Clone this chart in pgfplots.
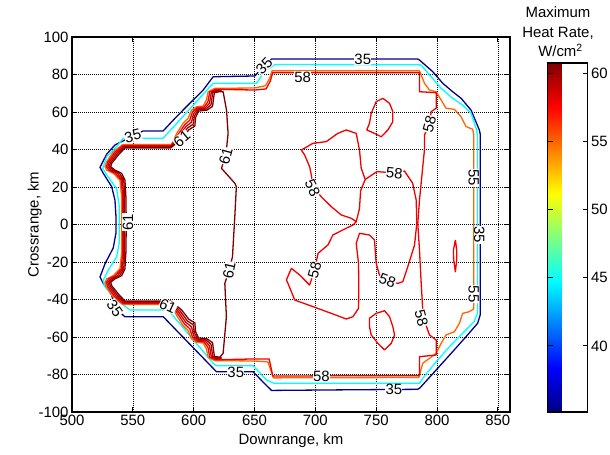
\documentclass[border=0pt]{standalone}
\usepackage{pgfplots}
\pgfplotsset{compat=1.18}
\usepackage{fontspec}
\setmainfont{Liberation Sans}
\definecolor{c35}{rgb}{0,0,0.55}
\definecolor{c45}{rgb}{0,1,1}
\definecolor{c55}{rgb}{1,0.4,0}
\definecolor{c58}{rgb}{0.95,0,0}
\definecolor{c59}{rgb}{0.78,0,0}
\definecolor{c60}{rgb}{0.64,0,0}
\definecolor{c61}{rgb}{0.5,0,0}
\newcommand\fs{\fontsize{15}{18}\selectfont}
\begin{document}
\begin{tikzpicture}[x=1bp,y=1bp]
\useasboundingbox (0,0) rectangle (610,455);
\begin{axis}[
  at={(72bp,43bp)}, anchor=south west,
  scale only axis, width=438bp, height=375bp,
  xmin=500, xmax=860, ymin=-100, ymax=100,
  xtick={500,550,...,850}, ytick={-100,-80,...,100},
  /pgf/number format/assume math mode=true,
  tick label style={font=\fs},
  grid=major,
  major grid style={black, line width=0.5bp, dash pattern=on 1bp off 1bp},
  axis line style={black, line width=1.1bp},
  tick style={black, line width=0.8bp},
  tick align=inside, major tick length=5bp,
  every axis x label/.style={at={(axis description cs:0.5,-0.077)}, anchor=center, font=\fs},
  every axis y label/.style={at={(axis description cs:-0.085,0.5)}, anchor=center, rotate=90, font=\fs},
  xlabel={Downrange, km}, ylabel={Crossrange, km},
  colormap/jet,
  point meta min=35.15, point meta max=60.75,
  colorbar,
  colorbar style={
    at={(parent axis.south east)}, anchor=south west, xshift=29bp,
    scale only axis, width=40bp, height=349bp,
    ytick={40,45,50,55,60},
    ytick pos=both, yticklabel pos=right,
    tick align=inside, major tick length=5bp,
    tick style={black, line width=0.8bp},
    axis line style={black, line width=1.1bp},
    yticklabel style={font=\fs},
    /pgf/number format/assume math mode=true,
  },
  every axis plot/.append style={line width=1.3bp, mark=none, line join=round},
  clip=true,
]
% level 35
\addplot[c35] coordinates {(664,88.3) (739,88.3) (784,88.3) (785.6,87.7) (796.5,81.5) (804.7,75.3) (812.9,70.8) (819.8,67.3) (828,61) (834.8,50.4) (835.6,48) (835.6,-48) (833.4,-52.7) (823.9,-59.8) (812.9,-67.8) (799.3,-77.6) (785.6,-87.4) (784,-87.9) (720,-88.2) (664,-88.5) (657,-84) (648.8,-78.5) (618.7,-78.5) (575,-49.2) (543.5,-49.2) (535.3,-44.6) (532.6,-37.6) (525.7,-31.4) (523,-28) (527.1,-21) (533.9,-12.5) (536.1,-4.7) (536.1,4.7) (535.3,13) (532.6,20.2) (525.7,27.3) (523,30.5) (528.5,37.5) (535.3,42.4) (540.8,44.2) (550,47.2) (558.5,49.9) (574.9,49.9) (585.9,57.5) (596.8,64.6) (607.8,71.7) (616,78.8) (650.2,79.2) (657,84) (664,88.3)};
% level 45
\addplot[c45] coordinates {(666.6,85.3) (785.6,85.2) (787,85) (795.2,78.8) (803.4,72.6) (812.9,67.3) (821.1,63.7) (828,59.3) (832.6,50.4) (833.2,47) (833.2,-47.4) (830.5,-51.8) (821.1,-58) (810.2,-65.2) (799.3,-73.2) (788.3,-82) (785.6,-84.7) (666,-84.7) (659.8,-82.9) (648.8,-75.3) (618.7,-75.3) (616,-74) (579,-45.6) (547.6,-45.6) (533.9,-38.5) (527.1,-33.2) (525.5,-30) (529.8,-24.3) (536.7,-17.2) (538.8,-10) (538.8,10) (536.7,19) (528.5,26.5) (525.3,30) (528.5,36.2) (536.7,41.5) (542.1,46) (574.9,46) (616,75.3) (651.6,75.3) (658.4,81.5) (666.6,85.3)};
% level 55
\addplot[c55] coordinates {(617.3,72.6) (650,72.8) (659,74) (662.5,78) (664.5,82) (785.6,82) (789.7,75.3) (793.8,71.7) (799.3,70.8) (803.4,66.4) (807.4,62) (814.3,61.4) (819.7,57.5) (823.9,52.2) (829.3,50.8) (830.2,48) (830.2,-45) (826.6,-46.5) (821.1,-47.4) (818.4,-52.7) (814.3,-57.2) (807.4,-58.9) (803.4,-63.4) (799.3,-68.7) (793.8,-71.4) (788.3,-74) (785.6,-80.3) (785,-81.6) (665.5,-81.8) (663.5,-78) (661,-73.3) (650,-72.8) (617.3,-72.6) (611.9,-70.8) (610.5,-66.4) (607.8,-63.2) (602.3,-62.8) (598.2,-61) (595.4,-56.6) (591.3,-54) (586,-48.5) (581.8,-42.6) (541.6,-42.6) (533.9,-38.8) (528.5,-33.5) (527.1,-30.8) (528.5,-29) (533.9,-27.3) (539.4,-23.7) (540.8,-14.8) (540.8,14.8) (539.4,23.7) (533.9,27.3) (528.5,29) (527.1,30.8) (528.5,33.5) (533.9,38.8) (541.6,42.6) (581.8,42.6) (586,48.5) (591.3,54) (595.4,56.6) (598.2,61) (602.3,62.8) (607.8,63.2) (610.5,66.4) (611.9,70.8) (617.3,72.6)};
% level 58, outer band
\addplot[c58] coordinates {(618.2,72.15) (650,71.7) (659.5,72.3) (663,76.5) (665,81) (785.6,81) (785.6,70.8) (799.3,70.3) (799.3,62) (795.2,60.2) (793.8,53.6) (789.7,47.7) (789.7,40) (788.3,30.8) (785.6,13) (784.2,0.6) (785.6,-13.6) (787,-31.4) (788.3,-45.6) (790,-52) (793.8,-58.9) (799.3,-61.6) (799.3,-69.6) (785.6,-70.5) (785.6,-80.6) (665,-80.8) (663.5,-76) (662,-71.7) (650,-71.7) (618.2,-72.15) (613.2,-70.7) (611.75,-65.55) (608.6,-62.65) (602.7,-62.2) (599,-60) (596.8,-55.6) (592.5,-53.1) (587,-47.75) (581.6,-42.15) (542.1,-42.15) (534.9,-38.35) (529.5,-33.3) (528.3,-30.8) (530.2,-29) (535.6,-27.3) (540.4,-23.7) (541.7,-14.8) (541.75,0) (541.7,14.8) (540.4,23.7) (535.6,27.3) (530.2,29) (528.3,30.8) (529.5,33.3) (534.9,38.35) (542.1,42.15) (581.6,42.15) (587,47.75) (592.5,53.1) (596.8,55.6) (599,60) (602.7,62.2) (608.6,62.65) (611.75,65.55) (613.2,70.7) (618.2,72.15)};
% level 58, interior
\addplot[c58] coordinates {(741,24) (737.7,30) (736.3,39.7) (733.6,48.6) (725.4,50.4) (718.5,48.6) (709,44.2) (698,43.3) (688.5,39.7) (691.2,37.1) (695.3,30.8) (696.7,26.4) (698,20) (704.9,14.8) (713.1,9.5) (721.3,5.1) (729.5,3.3) (733.6,1.5) (736.3,8.6) (737.2,18) (741,24)};
\addplot[c58] coordinates {(741,24) (750.6,28.2) (765,27.5) (773.3,28.5) (780,22) (782.9,13) (783.4,0.6) (781.5,-11) (776,-22.5) (771.9,-30.5) (767.8,-31.4) (759.3,-30.1) (752.7,-26.9) (750,-20.7) (748.6,-8.3) (744.5,-5.6) (736.3,-4.7) (733.6,-10) (735.5,-20.7) (735.7,-33.2) (735.5,-44.7) (730.9,-49.2) (725.4,-50.4) (713.1,-47.4) (698,-43.8) (683.1,-40.3) (677.5,-31.4) (676.2,-29.6) (680.3,-23.4) (687.1,-26.9) (695.3,-32.3) (699.4,-24.3) (702.2,-15.4) (710.4,-10.9) (714.4,-5.6) (725.4,-2) (730.9,-0.3) (733.6,1.5)};
\addplot[c58] coordinates {(755.5,67.3) (761,64.6) (763.7,60.2) (763.7,54.8) (759.6,50.4) (754.2,46.8) (748.6,48.6) (742.3,50.4) (744.5,54) (745.9,59.3) (750,65.5) (755.5,67.3)};
\addplot[c58] coordinates {(744.5,-50) (750,-47.4) (756.9,-46) (761,-49.2) (763.7,-54.5) (765.1,-58.9) (762.4,-63.4) (756.9,-66.9) (751.4,-63.4) (745.9,-58.9) (744.5,-54.5) (744.5,-50)};
\addplot[c58] coordinates {(815.1,-8.3) (816.2,-13.6) (816.2,-18.9) (815.1,-25.2) (813.7,-18.9) (813.5,-13.6) (815.1,-8.3)};
% levels 59 and 60
\addplot[c59] coordinates {(623,71.2) (619.1,71.7) (614.5,70.55) (613,64.7) (609.4,62.1) (603.15,61.65) (599.85,59) (598.2,54.55) (593.65,52.25) (588,47) (581.4,41.7) (542.55,41.7) (535.95,37.9) (530.55,33.05) (529.45,30.8) (531.9,29) (537.35,27.3) (541.45,23.7) (542.55,14.8) (542.55,-14.8) (541.45,-23.7) (537.35,-27.3) (531.9,-29) (529.45,-30.8) (530.55,-33.05) (535.95,-37.9) (542.55,-41.7) (581.4,-41.7) (588,-47) (593.65,-52.25) (598.2,-54.55) (599.85,-59) (603.15,-61.65) (609.4,-62.1) (613,-64.7) (614.5,-70.55) (619.1,-71.7) (623,-71.2)};
\addplot[c60] coordinates {(623,71) (620,71.25) (615.7,70.4) (614.25,63.85) (610.2,61.55) (603.6,61.1) (600.7,58) (599.6,53.5) (594.8,51.4) (589,46.25) (581.2,41.25) (543,41.25) (537,37.45) (531.6,32.8) (530.6,30.8) (533.6,29) (539.1,27.3) (542.5,23.7) (543.4,14.8) (543.4,-14.8) (542.5,-23.7) (539.1,-27.3) (533.6,-29) (530.6,-30.8) (531.6,-32.8) (537,-37.45) (543,-41.25) (581.2,-41.25) (589,-46.25) (594.8,-51.4) (599.6,-53.5) (600.7,-58) (603.6,-61.1) (610.2,-61.55) (614.25,-63.85) (615.7,-70.4) (620,-71.25) (623,-71)};
% level 61
\addplot[c61] coordinates {(620.9,70.8) (624.2,70.8) (627,61) (628.3,48.6) (626.4,36.5) (622.8,30) (633.8,22) (635.1,20.2) (633.8,4.2) (631.9,-17.2) (629.2,-24.3) (625.6,-31.4) (626.9,-49.2) (624.2,-68.7) (621.5,-70.8) (617,-70.3) (615.5,-63) (611,-61) (604,-60.5) (601.5,-57) (601,-52.5) (596,-50.5) (590,-45.5) (581,-40.8) (543.5,-40.8) (538,-37) (532.6,-32.6) (531.8,-30.8) (535.3,-29) (540.8,-27.3) (543.5,-23.7) (544.3,-14.8) (544.6,0) (544.3,14.8) (543.5,23.7) (540.8,27.3) (535.3,29) (531.8,30.8) (532.6,32.6) (538,37) (543.5,40.8) (581,40.8) (590,45.5) (596,50.5) (601,52.5) (601.5,57) (604,60.5) (611,61) (615.5,63) (617,70.3) (620.9,70.8)};
% contour labels
\begin{scope}[every node/.style={font=\fs, fill=white, inner sep=0.3bp, text=black}]
\node[rotate=46] at (axis cs:658,84.5) {35};
\node at (axis cs:739,88.3) {35};
\node[rotate=15] at (axis cs:550,47.2) {35};
\node[rotate=-55] at (axis cs:535.3,-44.6) {35};
\node at (axis cs:634.6,-78.6) {35};
\node at (axis cs:764.5,-88) {35};
\node[rotate=-90] at (axis cs:834.8,-5.6) {35};
\node[rotate=-90] at (axis cs:830.2,24.8) {55};
\node[rotate=-90] at (axis cs:830.2,-37.1) {55};
\node at (axis cs:689.6,78.7) {58};
\node at (axis cs:705,-80.8) {58};
\node[rotate=75] at (axis cs:793.8,53.6) {58};
\node[rotate=-75] at (axis cs:787.2,-49.9) {58};
\node[rotate=-5] at (axis cs:765,27.5) {58};
\node[rotate=-65] at (axis cs:697.8,19.5) {58};
\node[rotate=75] at (axis cs:699.4,-24.3) {58};
\node[rotate=-20] at (axis cs:759.3,-30.1) {58};
\node[rotate=40] at (axis cs:590.3,45.6) {61};
\node[rotate=90] at (axis cs:546,1.3) {61};
\node[rotate=75] at (axis cs:626.4,36.5) {61};
\node[rotate=78] at (axis cs:629.2,-24.3) {61};
\node[rotate=-25] at (axis cs:578.8,-43.5) {61};
\end{scope}
\end{axis}
% colour bar heading
\node[font=\fontsize{15}{18}\selectfont, anchor=base] at (558,437) {Maximum};
\node[font=\fontsize{15}{18}\selectfont, anchor=base] at (558,417.3) {Heat Rate,};
\node[font=\fontsize{15}{18}\selectfont, anchor=base] at (560.5,398.3) {W/cm\textsuperscript{2}};
\end{tikzpicture}
\end{document}
